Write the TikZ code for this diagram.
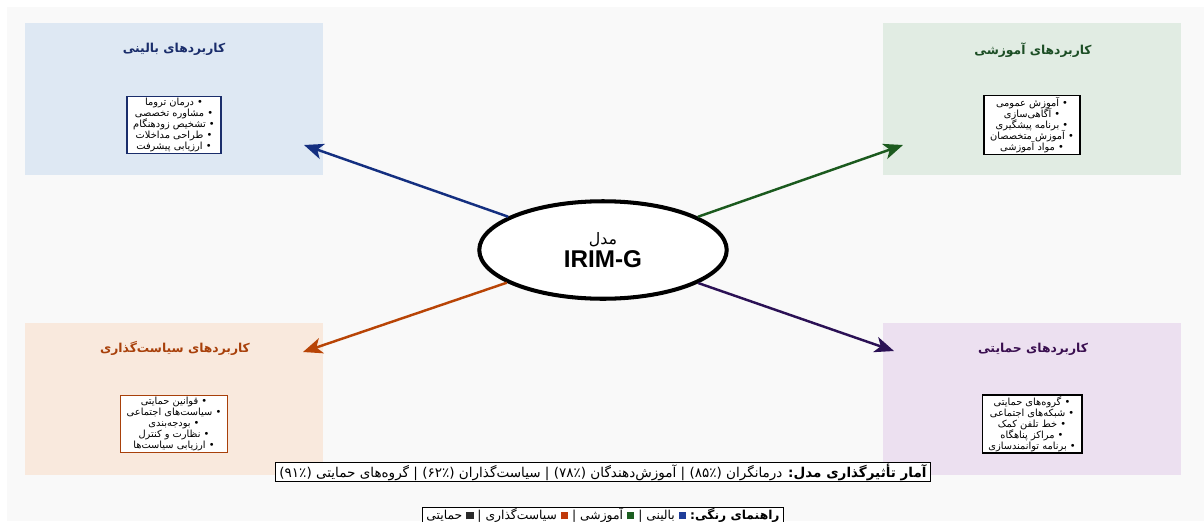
\documentclass[tikz,border=0pt]{standalone}
\usepackage{fontspec}
\usetikzlibrary{shapes.geometric,arrows.meta}
\setmainfont{Liberation Sans}
\newfontfamily\fa[Script=Arabic]{DejaVu Sans}
\TeXXeTstate=1
\definecolor{bgc}{HTML}{F9F9F9}
\definecolor{fillA}{HTML}{DEE8F3}
\definecolor{fillB}{HTML}{E1ECE3}
\definecolor{fillC}{HTML}{F9E9DD}
\definecolor{fillD}{HTML}{ECE0F0}
\definecolor{colA}{HTML}{1A2D6B}
\definecolor{colB}{HTML}{1B4D24}
\definecolor{colC}{HTML}{A8400A}
\definecolor{colD}{HTML}{3A0F50}
\definecolor{arrA}{HTML}{142F80}
\definecolor{arrB}{HTML}{1B5A1E}
\definecolor{arrC}{HTML}{B84406}
\definecolor{arrD}{HTML}{2B1155}
\definecolor{sqA}{HTML}{1F3D99}
\definecolor{sqB}{HTML}{1B5E20}
\definecolor{sqC}{HTML}{C0390B}
\definecolor{sqD}{HTML}{2A2A2A}
\newcommand{\legsq}[1]{\textcolor{#1}{\rule[0.2pt]{4.2pt}{4.2pt}}}
\newcommand{\rtl}[1]{\beginR #1\endR}
\newcommand{\tightlines}{\lineskiplimit=-20pt\relax\lineskip=0pt\relax}
\tikzset{
  panel/.style={rectangle, draw=none, minimum width=5.96cm, minimum height=3.04cm, inner sep=0pt},
  ptitle/.style={font=\fa\bfseries\fontsize{7}{8}\selectfont, inner sep=0pt},
  plist/.style={draw, line width=0.8pt, fill=white, align=center, inner xsep=3.5pt, inner ysep=0.8pt,
    font=\fa\fontsize{5.6}{6.3}\selectfont\tightlines},
  conn/.style={line width=1.4pt, -{Stealth[length=11pt,width=9pt,inset=3pt]}},
  infobox/.style={draw=black, line width=0.6pt, fill=white, inner xsep=2pt, inner ysep=0.8pt}
}
\begin{document}
\begin{tikzpicture}[x=0.02cm,y=-0.02cm]
\useasboundingbox (0,0) rectangle (1204,521);
\fill[white] (0,0) rectangle (1204,521);
\fill[bgc] (7,7) rectangle (1204,521);

\node[panel, fill=fillA] (pA) at (174,99) {};
\node[panel, fill=fillB] (pB) at (1032,99) {};
\node[panel, fill=fillC] (pC) at (174,399) {};
\node[panel, fill=fillD] (pD) at (1032,399) {};

\node[ptitle, text=colA] (tA) at (174,49) {\rtl{کاربردهای بالینی}};
\node[ptitle, text=colB] (tB) at (1033,50) {\rtl{کاربردهای آموزشی}};
\node[ptitle, text=colC] (tC) at (175,348) {\rtl{کاربردهای سیاست‌گذاری}};
\node[ptitle, text=colD] (tD) at (1033,349) {\rtl{کاربردهای حمایتی}};

\node[plist, draw=colA] (lA) at (174,125) {\rtl{• درمان تروما}\\ \rtl{• مشاوره تخصصی}\\ \rtl{• تشخیص زودهنگام}\\ \rtl{• طراحی مداخلات}\\ \rtl{• ارزیابی پیشرفت}};
\node[plist, draw=black] (lB) at (1032,125) {\rtl{• آموزش عمومی}\\ \rtl{• آگاهی‌سازی}\\ \rtl{• برنامه پیشگیری}\\ \rtl{• آموزش متخصصان}\\ \rtl{• مواد آموزشی}};
\node[plist, draw=colC] (lC) at (174,424) {\rtl{• قوانین حمایتی}\\ \rtl{• سیاست‌های اجتماعی}\\ \rtl{• بودجه‌بندی}\\ \rtl{• نظارت و کنترل}\\ \rtl{• ارزیابی سیاست‌ها}};
\node[plist, draw=black] (lD) at (1032,424) {\rtl{• گروه‌های حمایتی}\\ \rtl{• شبکه‌های اجتماعی}\\ \rtl{• خط تلفن کمک}\\ \rtl{• مراکز پناهگاه}\\ \rtl{• برنامه توانمندسازی}};

\node[ellipse, draw=black, line width=2.3pt, fill=white, minimum width=4.95cm, minimum height=1.95cm, inner sep=0pt, align=center] (core) at (603,250)
  {{\fa\fontsize{9}{11}\selectfont\rtl{مدل}}\\[1pt]{\bfseries\fontsize{13.8}{15}\selectfont IRIM-G}};

\coordinate (eA) at (304,145);
\coordinate (eB) at (903,145);
\coordinate (eC) at (303,352);
\coordinate (eD) at (894,351);

\draw[conn, arrA] (core) -- (eA);
\draw[conn, arrB] (core) -- (eB);
\draw[conn, arrC] (core) -- (eC);
\draw[conn, arrD] (core) -- (eD);

\node[infobox, font=\fa\fontsize{7.7}{9}\selectfont] (stats) at (603,472) {\rtl{\textbf{آمار تأثیرگذاری مدل:} درمانگران (۸۵٪) | آموزش‌دهندگان (۷۸٪) | سیاست‌گذاران (۶۲٪) | گروه‌های حمایتی (۹۱٪)}};
\node[infobox, font=\fa\fontsize{7}{8}\selectfont, anchor=north, inner ysep=0.3pt] (legend) at (603,507)
  {\rtl{حمایتی} \legsq{sqD} | \rtl{سیاست‌گذاری} \legsq{sqC} | \rtl{آموزشی} \legsq{sqB} | \rtl{بالینی} \legsq{sqA} \rtl{\textbf{راهنمای رنگی:}}};
\end{tikzpicture}
\end{document}
